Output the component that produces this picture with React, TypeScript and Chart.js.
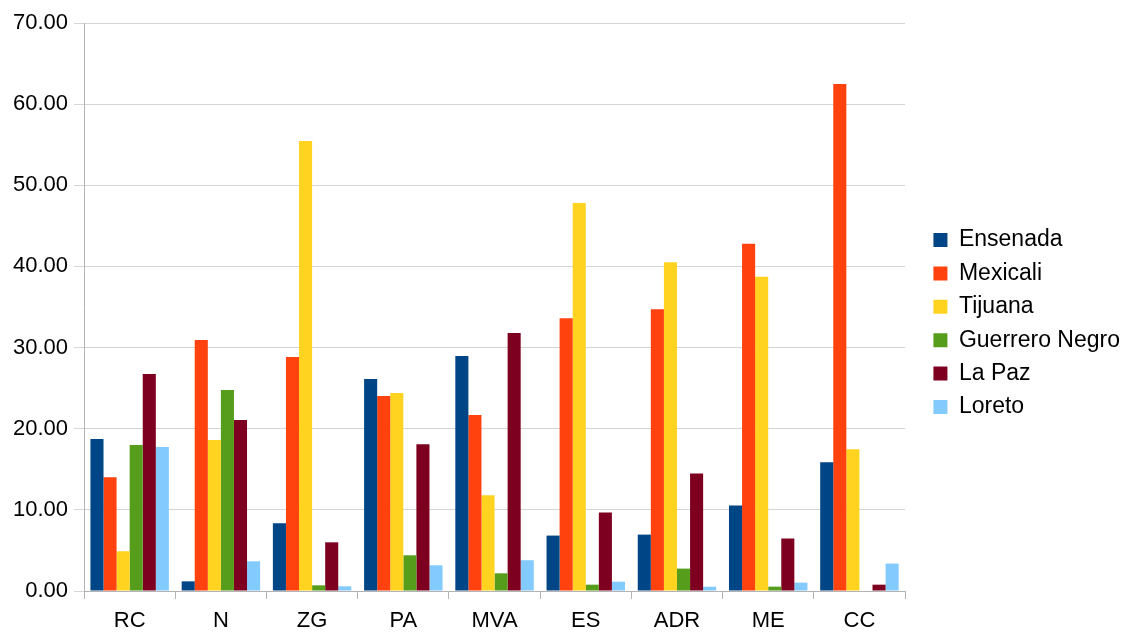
import React, { useEffect, useRef } from "react";
import { Chart, registerables } from "chart.js";

Chart.register(...registerables);

const categories = ["RC", "N", "ZG", "PA", "MVA", "ES", "ADR", "ME", "CC"];

const ensenada = [18.72, 1.19, 8.35, 26.13, 28.97, 6.83, 6.95, 10.55, 15.86];
const mexicali = [14.03, 30.93, 28.84, 24.03, 21.69, 33.62, 34.73, 42.81, 62.48];
const tijuana = [4.9, 18.6, 55.46, 24.4, 11.81, 47.82, 40.53, 38.73, 17.47];
const guerreroNegro = [17.98, 24.77, 0.7, 4.4, 2.18, 0.78, 2.76, 0.54, null];
const laPaz = [26.75, 21.07, 6.0, 18.1, 31.8, 9.67, 14.49, 6.47, 0.78];
const loreto = [17.74, 3.66, 0.58, 3.17, 3.79, 1.15, 0.53, 1.03, 3.38];

const seriesNames = ["Ensenada", "Mexicali", "Tijuana", "Guerrero Negro", "La Paz", "Loreto"];
const seriesColors = ["#004586", "#ff420e", "#ffd320", "#579d1c", "#7e0021", "#83caff"];
const seriesValues = [ensenada, mexicali, tijuana, guerreroNegro, laPaz, loreto];

const FONT = "'Liberation Sans', Arial, sans-serif";

const legendShift = {
  id: "legendShift",
  afterLayout(chart: any) {
    const lg = chart.legend;
    if (lg) {
      lg.left += 18;
      lg.right += 18;
      lg.top -= 9.5;
      lg.bottom -= 9.5;
    }
  },
};

export default function App() {
  const canvasRef = useRef<HTMLCanvasElement | null>(null);

  useEffect(() => {
    document.body.style.margin = "0";
    const canvas = canvasRef.current;
    if (!canvas) return;
    const chart = new Chart(canvas, {
      type: "bar",
      data: {
        labels: categories,
        datasets: seriesNames.map((name, i) => ({
          label: name,
          data: seriesValues[i] as any,
          backgroundColor: seriesColors[i],
          borderWidth: 0,
          categoryPercentage: 0.86,
          barPercentage: 1.0,
        })),
      },
      options: {
        animation: false,
        responsive: false,
        maintainAspectRatio: false,
        layout: { padding: { left: 7, top: 23, bottom: -11, right: 15 } },
        plugins: {
          tooltip: { enabled: false },
          legend: {
            position: "right",
            align: "center",
            labels: {
              font: { family: FONT, size: 23 },
              color: "#000000",
              boxWidth: 14,
              boxHeight: 14,
              padding: 10.4,
            },
          },
        },
        scales: {
          x: {
            grid: {
              display: true,
              drawOnChartArea: false,
              drawTicks: true,
              tickLength: 8,
              color: "#b3b3b3",
              offset: true,
            },
            border: { color: "#b3b3b3" },
            ticks: {
              font: { family: FONT, size: 22, lineHeight: 1 },
              color: "#000000",
              padding: 11,
              maxRotation: 0,
            },
          },
          y: {
            min: 0,
            max: 70,
            grid: {
              color: "#d4d4d4",
              tickLength: 10,
              lineWidth: 1,
            },
            border: { color: "#b3b3b3" },
            ticks: {
              stepSize: 10,
              font: { family: FONT, size: 22 },
              color: "#000000",
              padding: 6,
              callback: (v: any) => Number(v).toFixed(2),
            },
          },
        },
      },
      plugins: [legendShift],
    });
    return () => chart.destroy();
  }, []);

  return (
    <div style={{ width: 1127, height: 632 }}>
      <canvas ref={canvasRef} width={1127} height={632} style={{ display: "block" }} />
    </div>
  );
}
